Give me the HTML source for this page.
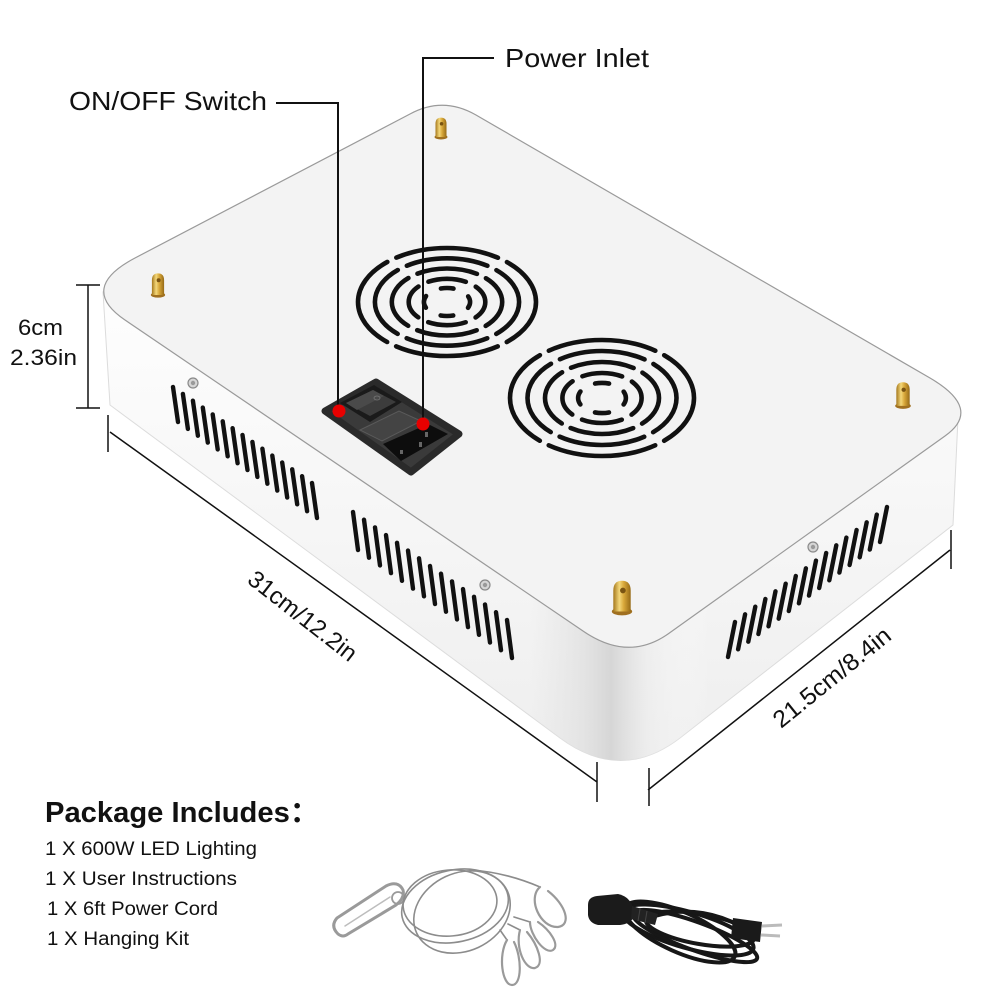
<!DOCTYPE html>
<html><head><meta charset="utf-8"><style>
html,body{margin:0;padding:0;background:#fff;}
svg{display:block;}
text{font-family:"Liberation Sans",Arial,sans-serif;fill:#111;}
</style></head><body>
<svg width="1000" height="1000" viewBox="0 0 1000 1000" xmlns="http://www.w3.org/2000/svg">
<defs>
<linearGradient id="gold" x1="0" y1="0" x2="1" y2="0">
<stop offset="0" stop-color="#a5781c"/><stop offset="0.35" stop-color="#f3d77a"/><stop offset="0.6" stop-color="#d8a83a"/><stop offset="1" stop-color="#966a16"/>
</linearGradient>
<linearGradient id="corner" gradientUnits="userSpaceOnUse" x1="530" y1="0" x2="710" y2="0">
<stop offset="0" stop-color="#e6e6e6" stop-opacity="0"/><stop offset="0.3" stop-color="#e2e2e2" stop-opacity="0.9"/><stop offset="0.45" stop-color="#d6d6d6" stop-opacity="1"/><stop offset="0.65" stop-color="#ececec" stop-opacity="0.7"/><stop offset="1" stop-color="#ffffff" stop-opacity="0"/>
</linearGradient>
<linearGradient id="leftface" gradientUnits="userSpaceOnUse" x1="0" y1="320" x2="0" y2="760">
<stop offset="0" stop-color="#fdfdfd"/><stop offset="1" stop-color="#eeeeee"/>
</linearGradient>
<g id="post">
<ellipse cx="0" cy="-1" rx="6.8" ry="2.6" fill="#a07020"/>
<path d="M-5.8 -1 L-5.8 -15 Q-5.8 -21.5 0 -21.5 Q5.8 -21.5 5.8 -15 L5.8 -1 Z" fill="url(#gold)"/>
<circle cx="0.6" cy="-15" r="1.9" fill="#7a5412"/>
</g>
<g id="screw">
<circle cx="0" cy="0" r="5" fill="#d6d6d6" stroke="#8a8a8a" stroke-width="1.2"/>
<circle cx="0" cy="0" r="2.2" fill="#9a9a9a"/>
</g>
</defs>

<!-- box body -->
<path d="M103 292 L110 405 L560 738 Q621 783 680 738 L953 525 L958 418 Z" fill="url(#leftface)" stroke="#dcdcdc" stroke-width="1"/>
<path d="M103 292 L110 405 L560 738 Q621 783 680 738 L953 525 L958 418 Z" fill="url(#corner)"/>

<!-- top face -->
<path d="M135 258 L410 114 Q443 96 476 115 L930 378 Q983 409 945 436 L668 634 Q628 662 583 631 L125 320 Q78 288 135 258 Z" fill="#f3f3f3" stroke="#9a9a9a" stroke-width="1.2"/>

<!-- vents -->
<g stroke="#111" stroke-width="4.4" stroke-linecap="round" fill="none">
<path d="M173 387l5 35M182.9 393.9l5 35M192.9 400.7l5 35M202.8 407.6l5 35M212.7 414.4l5 35M222.7 421.3l5 35M232.6 428.2l5 35M242.5 435l5 35M252.4 441.9l5 35M262.4 448.7l5 35M272.3 455.6l5 35M282.2 462.5l5 35M292.2 469.3l5 35M302.1 476.2l5 35M312 483l5 35"/>
<path d="M353 512l5 38M364 519.7l5 38M375 527.4l5 38M386 535.1l5 38M397 542.8l5 38M408 550.6l5 38M419 558.3l5 38M430 566l5 38M441 573.7l5 38M452 581.4l5 38M463 589.1l5 38M474 596.8l5 38M485 604.5l5 38M496 612.2l5 38M507 620l5 38"/>
<path d="M735 622l-7 35M745.1 614.3l-7 35M755.3 606.7l-7 35M765.4 599l-7 35M775.5 591.3l-7 35M785.7 583.7l-7 35M795.8 576l-7 35M805.9 568.3l-7 35M816 560.6l-7 35M826.2 553l-7 35M836.3 545.3l-7 35M846.4 537.6l-7 35M856.6 530l-7 35M866.7 522.3l-7 35M876.8 514.6l-7 35M887 507l-7 35"/>
</g>

<!-- screws -->
<use href="#screw" transform="translate(193 383)"/>
<use href="#screw" transform="translate(485 585)"/>
<use href="#screw" transform="translate(813 547)"/>

<!-- fans -->
<g fill="none" stroke="#111" stroke-width="4.6" stroke-linecap="round">
<ellipse cx="447" cy="302" rx="89" ry="54" stroke-dasharray="104 10" stroke-dashoffset="52"/>
<ellipse cx="447" cy="302" rx="72.1" ry="43.7" stroke-dasharray="82.3 10" stroke-dashoffset="41.15"/>
<ellipse cx="447" cy="302" rx="55.2" ry="33.5" stroke-dasharray="60.7 10" stroke-dashoffset="30.35"/>
<ellipse cx="447" cy="302" rx="38.3" ry="23.2" stroke-dasharray="38 11" stroke-dashoffset="19"/>
<ellipse cx="447" cy="302" rx="23.1" ry="14" stroke-dasharray="12.6 17" stroke-dashoffset="6.3"/>
<ellipse cx="602" cy="398" rx="92" ry="58" stroke-dasharray="109.3 10" stroke-dashoffset="54.65"/>
<ellipse cx="602" cy="398" rx="74.5" ry="47" stroke-dasharray="86.65 10" stroke-dashoffset="43.3"/>
<ellipse cx="602" cy="398" rx="57" ry="36" stroke-dasharray="64 10" stroke-dashoffset="32"/>
<ellipse cx="602" cy="398" rx="39.6" ry="25" stroke-dasharray="40.4 11" stroke-dashoffset="20.2"/>
<ellipse cx="602" cy="398" rx="23.9" ry="15.1" stroke-dasharray="14 17" stroke-dashoffset="7"/>
</g>

<!-- brass posts -->
<use href="#post" transform="translate(441 138) scale(0.95)"/>
<use href="#post" transform="translate(158 296) scale(1.05)"/>
<use href="#post" transform="translate(903 407) scale(1.15)"/>
<use href="#post" transform="translate(622 613) scale(1.5)"/>

<!-- switch module -->
<path d="M325 411 L376 382 L459 434 L411 472 Z" fill="#3a3a3a" stroke="#2a2a2a" stroke-width="7" stroke-linejoin="round"/>
<path d="M340 403 L374 385 L402 402 L370 422 Z" fill="#1a1a1a"/>
<path d="M346 403 L373 390 L396 402 L370 416 Z" fill="#3c3c3c"/>
<path d="M346 403 L373 390 L384 396 L357 410 Z" fill="#4a4a4a"/>
<ellipse cx="377" cy="398" rx="3" ry="2" fill="none" stroke="#777" stroke-width="0.8"/>
<path d="M360 430 L399 411 L421 421 L382 441 Z" fill="#444" stroke="#5a5a5a" stroke-width="1"/>
<path d="M383 444 L428 424 L448 434 L401 461 Z" fill="#0d0d0d"/>
<rect x="425" y="432" width="3" height="5" fill="#666"/>
<rect x="419" y="442" width="3" height="5" fill="#666"/>
<rect x="400" y="450" width="3" height="4" fill="#666"/>

<!-- leader lines -->
<g stroke="#111" stroke-width="2" fill="none">
<path d="M276 103 H338 V411"/>
<path d="M494 58 H423 V424"/>
</g>
<circle cx="339" cy="411" r="6.5" fill="#e80000"/>
<circle cx="423" cy="424" r="6.5" fill="#e80000"/>

<!-- dimension lines -->
<g stroke="#111" stroke-width="1.5" fill="none">
<path d="M88 285 V408 M76 285 H100 M76 408 H100"/>
<path d="M110 432 L597 782 M108 415 V452 M597 762 V802"/>
<path d="M648 790 L950 550 M649 768 V806 M951 530 V569"/>
</g>

<!-- labels -->
<text x="69" y="110" font-size="26" textLength="198" lengthAdjust="spacingAndGlyphs">ON/OFF Switch</text>
<text x="505" y="67" font-size="26" textLength="144" lengthAdjust="spacingAndGlyphs">Power Inlet</text>
<text x="18" y="335" font-size="22" textLength="45" lengthAdjust="spacingAndGlyphs">6cm</text>
<text x="10" y="365" font-size="22" textLength="67" lengthAdjust="spacingAndGlyphs">2.36in</text>
<text x="0" y="0" font-size="24" textLength="131" lengthAdjust="spacingAndGlyphs" transform="translate(246 582) rotate(38)">31cm/12.2in</text>
<text x="0" y="0" font-size="24" textLength="144" lengthAdjust="spacingAndGlyphs" transform="translate(781 729) rotate(-39)">21.5cm/8.4in</text>

<!-- package text -->
<text x="45" y="822" font-size="29" font-weight="bold" style="font-family:'Liberation Sans','Noto Sans CJK SC',sans-serif" textLength="274" lengthAdjust="spacingAndGlyphs">Package Includes：</text>
<text x="45" y="855" font-size="19" textLength="212" lengthAdjust="spacingAndGlyphs">1 X 600W LED Lighting</text>
<text x="45" y="885" font-size="19" textLength="192" lengthAdjust="spacingAndGlyphs">1 X User Instructions</text>
<text x="47" y="915" font-size="19" textLength="171" lengthAdjust="spacingAndGlyphs">1 X 6ft Power Cord</text>
<text x="47" y="945" font-size="19" textLength="142" lengthAdjust="spacingAndGlyphs">1 X Hanging Kit</text>

<!-- hanging kit -->
<g fill="none" stroke="#9a9a9a" stroke-linecap="round">
<path d="M338 934 Q330 926 337 918 L386 886 Q398 880 403 890 Q405 898 396 905 L348 934 Q343 938 338 934 Z" stroke-width="3"/>
<path d="M345 926 L390 897" stroke="#bdbdbd" stroke-width="1.5"/>
<circle cx="398" cy="898" r="6" stroke-width="1.8"/>
<g stroke="#8c8c8c" stroke-width="1.6">
<ellipse cx="455" cy="906" rx="54" ry="36" transform="rotate(-12 455 906)"/>
<ellipse cx="462" cy="912" rx="50" ry="39" transform="rotate(-25 462 912)"/>
<ellipse cx="450" cy="903" rx="47" ry="33" transform="rotate(-5 450 903)"/>
<path d="M470 870 Q505 872 540 887"/>
<path d="M500 930 L507 940 M508 924 L520 930 M514 917 L530 922"/>
</g>
<g stroke-width="2.2">
<path d="M540 887 C527 898 540 928 558 927 C572 925 566 905 548 891"/>
<path d="M507 940 C498 955 502 985 512 985 C522 985 522 958 514 942"/>
<path d="M520 930 C515 948 525 970 535 968 C545 965 538 945 527 932"/>
<path d="M530 922 C530 935 545 955 553 950 C560 945 550 930 538 922"/>
</g>
</g>

<!-- power cord -->
<g fill="none" stroke="#171717" stroke-width="4">
<ellipse cx="688" cy="930" rx="68" ry="18" transform="rotate(16 688 930)"/>
<ellipse cx="695" cy="936" rx="66" ry="14" transform="rotate(20 695 936)"/>
<ellipse cx="680" cy="932" rx="60" ry="20" transform="rotate(24 680 932)"/>
<ellipse cx="700" cy="929" rx="55" ry="15" transform="rotate(10 700 929)"/>
<path d="M655 916 C690 906 720 915 740 926"/>
</g>
<path d="M588 905 Q588 897 597 896 L618 894 Q628 896 632 905 L634 917 Q630 924 620 925 L598 925 Q589 923 588 915 Z" fill="#1b1b1b"/>
<path d="M632 906 L658 914 L655 925 L631 919 Z" fill="#222"/>
<path d="M640 909 L638 921 M647 911 L645 923" stroke="#444" stroke-width="1"/>
<path d="M733 918 L762 922 L760 942 L731 938 Z" fill="#1a1a1a"/>
<path d="M762 926 L782 925 M761 935 L780 936" stroke="#bbb" stroke-width="3"/>
</svg>
</body></html>
